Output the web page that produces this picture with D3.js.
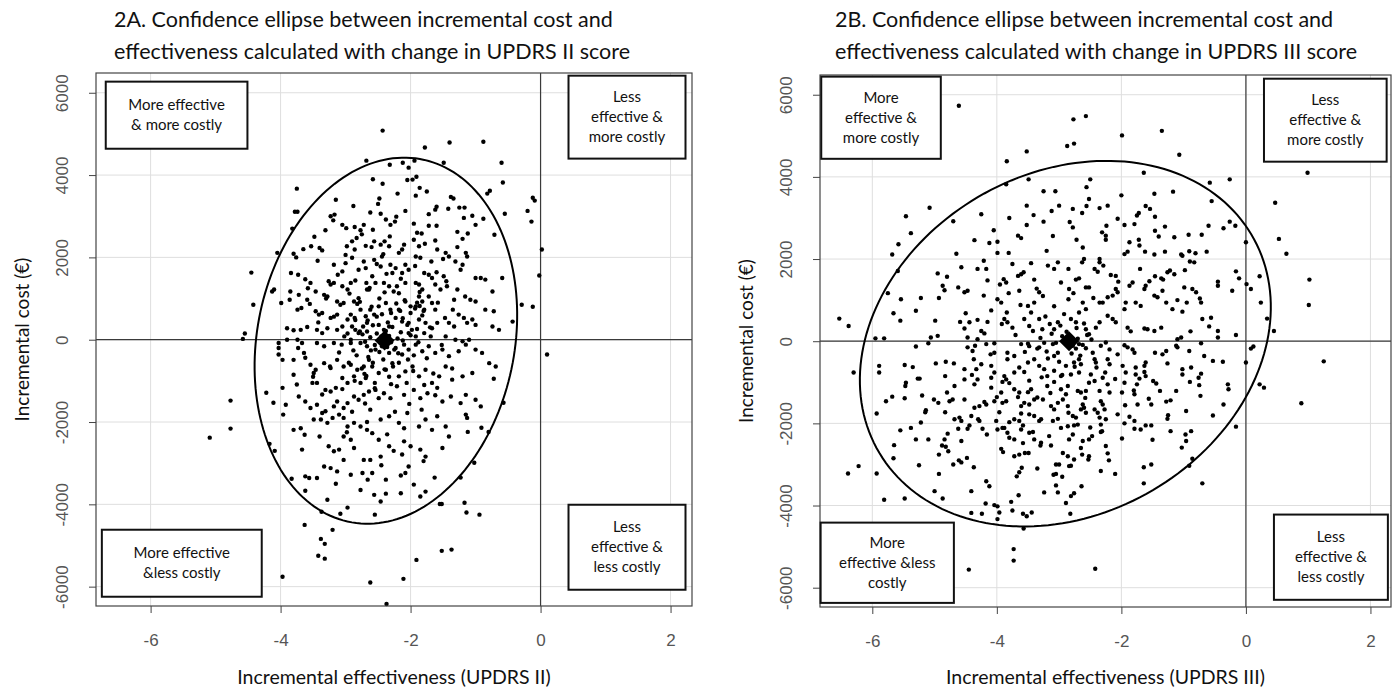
<!DOCTYPE html>
<html>
<head>
<meta charset="utf-8">
<script src="https://cdn.jsdelivr.net/npm/d3@7"></script>
<style>
  body { margin: 0; background: #fff; }
</style>
</head>
<body>
<div id="chart"></div>
<script>
// axis setup shared by both panels
const xTicks = [-6, -4, -2, 0, 2];
const yTicks = [-6000, -4000, -2000, 0, 2000, 4000, 6000];
const xDomain = [-6.84, 2.33];
const yDomain = [-6470, 6480];

// 2A: incremental effectiveness (UPDRS II) vs incremental cost
const pointsA = [
  [-3.75,3670],[-4.45,1630],[-4.42,850],[-4.55,150],[-4.58,20],[-4.05,2110],[-3.82,2700],[-3.78,3110],[-3.74,3110],[-2.68,4350],
  [-2.43,5080],[-1.78,4670],[-1.40,4790],[-0.88,4810],[-0.60,4300],[-0.58,3820],[-0.78,3620],[-0.82,3550],[-0.12,3450],[-0.09,3380],
  [-0.20,3130],[-0.14,2870],[-0.55,3060],[0.02,2190],[-0.02,1560],[-0.29,850],[-0.12,800],[-0.43,440],[0.10,-360],
  [-0.57,-1530],[-0.72,-950],[-1.17,-3960],[-1.14,-4200],[-0.94,-4250],[-1.52,-5130],[-1.37,-5100],[-1.91,-5350],[-2.11,-5810],[-2.62,-5900],
  [-2.37,-6420],[-1.63,-3350],[-1.55,-3990],[-1.52,-3990],[-1.23,-3350],[-1.02,-2990],[-0.91,-2140],[-0.80,-2240],[-1.12,-2240],
  [-4.77,-1480],[-4.77,-2160],[-5.09,-2380],[-4.22,-1290],[-4.11,-1530],[-4.17,-2530],[-4.09,-2700],[-3.83,-3380],[-3.62,-3670],[-3.63,-4500],
  [-3.38,-4840],[-3.32,-4960],[-3.42,-5250],[-3.32,-5320],[-3.20,-4620],[-3.08,-4230],[-2.97,-4080],[-3.28,-3890],[-3.37,-4180],[-3.97,-5760],
  [-2.32,4250],[-2.12,4300],[-2.03,4180],[-1.94,4350],[-1.49,4300],[-1.97,3890],[-1.91,3960],[-2.43,3790],[-1.86,3690],[-1.75,3600],
  [-2.48,3430],[-1.92,3500],[-1.38,3470],[-1.34,3430],[-1.60,3230],[-1.62,3160],[-1.42,3180],[-1.25,3210],[-1.17,3210],[-2.08,3130],
  [-2.62,3090],[-2.46,3060],[-2.22,2990],[-1.05,3010],[-1.18,2960],[-0.88,2940],[-1.00,2790],[-0.71,2550],[-1.95,2820],[-1.72,2770],
  [-1.60,2770],[-1.28,2620],[-1.12,2580],[-1.83,2580],[-1.20,2450],
  [-3.15,3400],[-3.23,3000],[-3.17,3040],[-3.19,2900],[-3.05,2790],[-2.99,2710],[-3.31,2660],[-2.86,2740],[-2.77,2660],[-2.72,2790],
  [-2.83,2470],[-2.90,2390],[-2.69,2280],[-2.98,2270],[-2.86,2190],[-2.90,1990],[-2.72,1900],[-2.69,1740],[-3.00,1860],[-3.05,1660],
  [-3.18,1820],[-3.43,1920],[-3.53,2270],[-3.65,2200],[-3.40,2230],[-3.36,2170],[-3.80,2090],[-3.76,2000],[-3.84,1620],[-3.73,1580],
  [-3.62,1470],[-3.54,1380],[-3.26,1420],[-3.23,1340],[-3.46,1170],[-3.85,1170],[-3.86,970],[-4.13,1170],[-4.10,1220],[-3.99,890],
  [-3.72,1090],[-3.59,970],[-3.55,870],[-3.33,1090],[-3.28,1050],[-3.13,930],[-3.08,850],[-3.03,890],[-2.87,930],[-2.82,870],
  [-2.80,1010],[-3.18,1380],[-3.05,1300],[-2.97,1220],[-2.92,1380],[-2.85,1440],[-2.68,1380],[-2.67,1220],[-3.74,730],[-3.68,770],
  [-3.46,690],[-3.41,610],[-3.36,650],[-3.23,530],[-3.13,610],[-2.97,490],[-2.92,610],[-2.86,530],[-2.77,730],[-2.69,570],
  [-2.67,410],[-3.90,280],[-3.80,230],[-3.69,240],[-3.59,310],[-3.44,240],[-3.36,160],[-3.28,280],[-3.13,240],[-3.05,320],
  [-2.97,150],[-2.85,240],[-2.80,160],[-2.73,320],[-2.67,200],[-4.03,-80],[-3.90,0],[-3.74,0],[-3.67,-80],[-3.44,-80],
  [-3.33,-160],[-3.18,-80],[-3.06,-120],[-2.92,-80],[-2.77,-80],[-2.67,-160],
  [-2.58,2670],[-2.38,2920],[-2.31,2790],[-2.24,2870],[-2.56,2390],[-2.46,2310],[-2.40,2390],[-2.32,2510],[-2.33,2270],[-2.10,2310],
  [-2.13,2190],[-1.95,2430],[-1.87,2270],[-1.78,2330],[-1.92,2020],[-1.85,1990],[-1.62,2410],[-1.59,2190],[-1.46,2110],[-1.41,2020],
  [-1.50,1960],[-1.28,2250],[-1.15,2110],[-1.13,2020],[-1.31,1900],[-1.20,1820],[-1.23,1700],[-2.56,1940],[-2.44,2020],[-2.46,1780],
  [-2.31,1820],[-2.23,1740],[-2.28,1620],[-2.08,1820],[-2.03,1700],[-2.13,1620],[-1.79,1620],[-1.72,1580],[-1.67,1500],[-1.60,1640],
  [-1.49,1540],[-1.92,1380],[-1.87,1340],[-1.82,1220],[-2.59,1540],[-2.54,1380],[-2.64,1220],[-2.41,1380],[-2.33,1300],[-2.26,1170],
  [-2.18,1130],[-2.08,1380],[-1.62,1340],[-1.54,1220],[-1.44,1300],[-1.28,1220],[-1.16,1050],[-1.33,970],[-1.00,1500],[-0.92,1500],
  [-0.85,1460],[-1.08,970],[-1.00,930],[-0.85,730],[-0.72,690],[-0.59,1500],[-0.74,1170],[-1.35,730],[-1.26,610],[-1.18,530],
  [-1.47,530],[-1.41,410],[-1.33,320],[-1.13,410],[-1.05,490],[-1.00,360],[-0.74,320],[-0.64,240],[-1.87,1050],[-1.82,930],
  [-1.92,810],[-1.79,730],[-1.72,1050],[-1.67,890],[-1.62,730],[-2.08,930],[-2.00,810],[-2.18,730],[-2.38,890],[-2.49,810],
  [-2.31,730],[-2.62,730],[-2.56,610],[-2.23,530],[-2.13,440],[-2.03,410],[-1.87,490],[-1.77,410],[-1.67,280],[-1.59,410],
  [-2.49,360],[-2.41,240],[-2.33,320],[-2.03,160],[-1.92,80],[-1.79,160],[-1.69,80],[-1.46,80],[-1.31,0],[-1.20,-40],[-1.10,0],
  [-4.03,-200],[-4.03,-360],[-3.97,-490],[-3.80,-490],[-3.73,-200],[-3.64,-320],[-3.62,-440],[-3.54,-610],[-3.46,-730],[-3.49,-810],
  [-3.33,-570],[-3.23,-690],[-3.13,-490],[-3.03,-650],[-2.92,-610],[-2.82,-730],[-2.72,-650],[-2.64,-490],[-3.80,-850],[-3.75,-1090],
  [-3.97,-1170],[-3.51,-1050],[-3.44,-1050],[-3.31,-1220],[-3.23,-1260],[-3.15,-1170],[-3.05,-930],[-2.97,-1050],[-2.87,-890],[-2.77,-1050],
  [-2.69,-930],[-3.72,-1380],[-3.62,-1500],[-3.54,-1660],[-3.92,-1580],[-3.96,-1820],[-3.44,-1580],[-3.36,-1780],[-3.31,-1740],[-3.18,-1620],
  [-3.13,-1500],[-3.03,-1660],[-2.97,-1540],[-2.87,-1380],[-2.80,-1460],[-2.72,-1340],[-2.64,-1260],[-3.49,-1940],[-3.38,-1940],[-3.28,-2020],
  [-3.20,-1900],[-3.10,-1820],[-3.03,-1900],[-2.97,-2110],[-2.87,-2020],[-2.77,-2110],[-2.67,-2190],[-3.80,-2190],[-3.69,-2150],[-3.63,-2310],
  [-3.67,-2670],[-3.26,-2590],[-3.18,-2710],[-3.10,-2670],[-3.03,-2350],[-2.92,-2430],[-2.87,-2630],[-3.33,-3080],[-3.23,-3120],[-3.13,-3200],
  [-3.03,-2920],[-2.92,-3280],[-2.74,-3240],[-2.72,-2920],[-3.62,-3320],[-3.56,-3360],[-3.44,-3360],[-2.77,-3650],
  [-2.54,-240],[-2.44,-160],[-2.33,-320],[-2.23,-200],[-2.13,-360],[-2.03,-240],[-1.92,-120],[-1.82,-280],[-1.72,-160],[-1.62,-320],
  [-1.51,-240],[-1.41,-400],[-1.26,-280],[-1.15,-120],[-1.00,-240],[-0.90,-320],[-0.79,-570],[-0.69,-650],
  [-2.59,-650],[-2.49,-810],[-2.38,-730],[-2.28,-570],[-2.18,-890],[-2.08,-770],[-1.97,-650],[-1.87,-890],[-1.77,-730],[-1.67,-1050],
  [-1.56,-890],[-1.46,-650],[-1.36,-970],[-1.20,-890],[-1.05,-810],
  [-2.54,-1220],[-2.41,-1300],[-2.31,-1420],[-2.21,-1130],[-2.10,-1340],[-1.95,-1220],[-1.85,-1420],[-1.74,-1300],[-1.59,-1170],[-1.51,-1500],
  [-1.38,-1380],[-1.23,-1540],[-1.15,-1340],[-1.00,-1460],[-0.92,-1620],
  [-2.62,-1700],[-2.46,-1940],[-2.33,-1860],[-2.18,-2020],[-2.05,-1780],[-1.87,-2110],[-1.77,-1940],[-1.67,-2190],[-1.59,-1860],[-1.46,-2110],
  [-1.15,-1820],[-1.13,-1900],[-2.59,-2270],[-2.49,-2430],[-2.33,-2590],[-2.10,-2470],[-2.00,-2590],[-1.85,-2670],[-1.77,-2840],[-1.51,-2630],
  [-1.41,-2350],[-2.62,-2920],[-2.46,-2840],[-2.59,-3240],[-2.38,-3400],[-2.13,-2790],[-2.03,-3080],[-2.08,-3240],[-1.95,-3520],
  [-2.56,-3770],[-2.38,-3740],[-2.46,-3930],[-2.15,-3730],[-1.85,-3810],[-1.77,-3690],[-2.55,-4250],
  [-2.45,80],[-2.30,-60],[-2.55,-130],[-2.38,210],[-2.20,30],[-2.62,60],[-2.48,-300],[-2.25,-240],[-2.70,-50],[-2.15,180],
  [-2.35,420],[-2.58,350],[-2.10,-120],[-2.42,-480],[-2.78,200],[-2.05,360],[-2.65,-420],[-2.30,650],[-2.52,560],[-2.18,-560],
  [-2.88,-260],[-2.00,110],[-2.40,-720],[-2.60,800],[-2.22,880],[-2.75,-700],[-1.95,-380],[-2.85,480],[-2.48,1000],[-2.33,-900],
  [-2.12,520],[-2.68,-880],[-2.92,0],[-1.90,260],[-2.55,-1050],
  [-2.52,150],[-2.36,-180],[-2.61,-260],[-2.28,310],[-2.47,-40],[-2.19,-330],[-2.74,130],[-2.33,90],[-2.58,-560],[-2.12,-20],
  [-2.83,-380],[-2.44,620],[-2.04,-480],[-2.66,470],[-2.27,-650],[-1.98,240],[-2.90,320],[-2.16,700],[-2.71,-830],[-2.40,1150],
  [-1.88,-60],[-2.95,-560],[-2.09,960],[-2.55,-1180],[-1.82,590],[-3.02,80],[-2.30,-1080],[-2.78,920],[-1.96,-760],[-3.10,-310],
  [-2.21,1300],[-2.63,1260],[-1.75,-450],[-2.86,-1000],[-2.06,-1050],[-3.18,560],[-1.70,300],[-2.49,-1420],[-2.94,1120],[-2.15,1480],
  [-1.86,1160],[-3.24,-650],[-2.37,1600],[-1.79,-1100],[-2.70,-1550],[-3.05,-1200],[-1.93,1790],[-2.52,1840],[-3.30,1000],[-2.24,-1750],
  [-1.65,-820],[-3.12,1580],[-2.80,1700],[-2.02,-1560],[-3.36,-1330],[-1.58,900],[-2.42,2080],[-2.18,2110],[-2.67,-2000],[-2.90,-1750],
  [-1.52,-130],[-3.42,420],[-1.68,1900],[-2.36,-2300],[-3.00,2060],[-2.10,-2150],[-1.83,-1700],[-3.50,-900],[-2.60,2250],[-1.45,1420],
  [-2.26,-2700],[-2.98,-2250],[-3.40,-2350],[-1.62,-1350],[-2.45,-3050],[-1.90,2600],[-2.75,2560],[-3.58,1250],[-1.36,-700],[-2.15,-3300],
  [-2.50,3300],[-2.88,3250],[-1.72,3050],[-3.48,2500],[-2.20,3550],[-2.66,-3400],[-1.80,-2950],[-3.15,-3500],[-2.05,3880],[-2.58,3900],
  [-1.86,820],[-1.93,760],[-1.80,700],[-2.00,650],[-1.90,900]
];

// 2B: incremental effectiveness (UPDRS III) vs incremental cost
const pointsB = [
  [-4.61,5730],[-3.52,4620],[-3.84,4380],[-2.87,4750],[-5.08,3250],[-5.46,3040],[-5.38,2630],[-5.58,2360],[-5.68,2110],[-5.59,1710],
  [-5.75,1170],[-6.53,550],[-6.38,370],[-5.95,70],[-5.81,70],[-5.54,1020],[-5.66,680],[-5.55,500],[-5.22,1050],[-5.30,740],
  [-4.99,500],[-4.70,2920],[-4.25,3090],[-4.65,2130],[-3.49,3940],[-3.85,3820],[-3.25,3650],[-3.06,3650],[-3.52,3300],[-3.12,3170],
  [-3.41,3070],[-3.52,2830],[-3.25,2910],[-4.36,2460],[-3.99,2420],[-4.12,2390],[-3.66,2570],[-3.61,2510],[-3.81,2150],[-3.99,2150],
  [-4.21,1960],[-4.57,1800],[-4.95,1650],[-4.80,1570],[-4.87,1350],[-4.84,1240],[-4.62,1310],[-4.47,1230],[-4.52,1190],[-4.93,1050],
  [-4.31,1760],[-4.17,1760],[-3.89,1510],[-3.85,1430],[-3.61,1630],[-3.66,1590],[-3.57,1680],[-3.40,1500],[-3.18,1840],[-3.08,1760],
  [-3.02,1920],[-2.97,1430],[-3.99,1020],[-3.93,940],[-3.81,1170],[-4.21,1110],[-4.09,750],[-4.31,520],[-4.44,460],[-4.59,470],
  [-4.52,310],[-4.15,470],[-4.25,250],[-3.88,540],[-3.83,460],[-3.75,330],[-3.56,540],[-3.48,370],[-3.32,540],[-3.27,290],
  [-3.08,290],[-3.02,460],[-3.40,940],[-3.50,860],[-3.32,1190],[-3.64,1230],[-4.47,90],[-4.31,50],[-5.06,90],[-4.95,130],
  [-2.77,5400],[-2.57,5480],[-1.99,5010],[-1.35,5120],[-2.76,4810],[-1.07,4540],[-1.64,4100],[-2.50,3940],[-0.58,3860],[-0.26,3940],
  [0.99,4100],[0.47,3370],[0.53,2490],[0.65,2130],[1.02,1500],[1.01,880],[0.24,940],[0.34,550],[0.45,250],[0.22,1580],
  [0.00,2410],[-0.11,1530],[0.01,1390],[0.08,1270],[-0.16,1700],[-0.22,1230],[-0.55,3410],[-1.17,3640],[-1.47,3590],[-0.60,2810],
  [-0.36,2750],[-0.26,2910],[-0.17,2810],[-0.71,2590],[-0.92,2590],[-1.15,2530],[-1.30,2790],[-1.46,3030],[-1.46,2690],[-1.61,3290],
  [-1.54,3220],[-1.72,3120],[-1.75,3060],[-1.79,2850],[-1.95,2830],[-2.06,2980],[-2.24,2810],[-2.22,3300],[-2.35,3240],[-2.56,3750],
  [-2.52,3460],[-2.56,3290],[-2.63,3120],[-2.78,3220],[-2.83,2900],[-2.78,2770],[-2.31,2650],[-2.25,2570],[-2.25,2470],[-2.72,2470],
  [-1.87,2410],[-1.72,2470],[-1.71,2330],[-1.90,2180],[-1.95,2120],[-1.62,2180],[-1.47,2110],[-1.30,2180],[-1.04,2110],[-1.02,2080],
  [-0.91,2190],[-0.81,2140],[-0.90,1940],[-0.83,1920],[-0.63,2180],[-0.98,1730],[-1.22,1720],[-1.15,1630],[-1.26,1680],[-1.46,1580],
  [-1.36,1530],[-1.33,1500],[-1.55,1460],[-1.61,1350],[-1.63,1270],[-1.82,1430],[-1.87,1350],[-2.09,1590],[-2.17,1610],[-2.09,1270],
  [-2.06,1190],[-2.35,1920],[-2.29,1840],[-2.43,1760],[-2.38,1690],[-2.60,2000],[-2.63,1920],[-2.68,1530],[-2.73,1500],[-2.85,1760],
  [-2.84,1270],[-2.77,1170],[-2.57,1310],[-2.52,1310],[-2.62,940],[-2.57,780],[-2.35,940],[-2.30,940],[-2.22,1070],[-2.14,1110],
  [-1.93,940],[-1.95,780],[-1.77,940],[-1.69,860],[-1.47,1110],[-1.42,1070],[-1.34,1230],[-1.28,940],[-1.18,780],[-0.99,1310],
  [-0.86,1270],[-0.80,1190],[-0.74,1040],[-0.72,940],[-0.95,940],[-1.02,720],[-0.70,540],[-0.56,570],[-0.45,1450],[-0.45,1350],
  [-0.59,360],[-0.89,240],[-1.10,50],[-1.04,90],[-1.47,250],[-1.36,330],[-1.63,310],[-1.58,290],[-1.90,330],[-1.85,240],
  [-2.09,460],[-2.14,540],[-2.35,460],[-2.41,330],[-2.57,290],[-2.52,170],[-2.73,460],[-2.81,540],[-0.16,150],[-0.45,250],[-0.45,90],
  [-6.30,-760],[-6.39,-3220],[-6.22,-3040],[-5.93,-3220],[-5.81,-3860],[-5.48,-3830],[-5.89,-600],[-5.89,-760],[-5.48,-580],[-5.35,-630],
  [-5.30,-130],[-5.10,-50],[-5.78,-1460],[-5.68,-1350],[-5.48,-1390],[-5.93,-1760],[-5.55,-2170],[-5.65,-2530],[-5.66,-2850],[-5.25,-3020],
  [-5.22,-1980],[-5.38,-2110],[-5.30,-2390],[-5.10,-2390],[-5.15,-1730],[-5.14,-1680],[-5.24,-910],[-5.27,-910],[-5.46,-1010],[-5.47,-1090],
  [-5.20,-1320],[-5.01,-1420],[-4.98,-540],[-4.82,-500],[-4.69,-540],[-4.83,-850],[-4.80,-1250],[-4.76,-1460],[-4.71,-1420],[-4.52,-1420],
  [-4.83,-1730],[-4.68,-1900],[-4.60,-1860],[-4.57,-1940],[-4.62,-2130],[-4.47,-2130],[-4.44,-2050],[-4.79,-2250],[-4.84,-2390],[-4.88,-2540],
  [-4.82,-2570],[-4.78,-2680],[-4.93,-2760],[-4.57,-2430],[-4.61,-2900],[-4.57,-2950],[-4.48,-2840],[-4.93,-3230],[-4.37,-3070],[-5.00,-3650],
  [-4.87,-3830],[-4.41,-3650],[-4.41,-4180],[-4.24,-4200],[-4.18,-3950],[-4.17,-3410],[-4.12,-3530],[-4.04,-3990],[-3.99,-4020],[-3.96,-4170],
  [-3.99,-4330],[-3.77,-3910],[-3.75,-4120],[-3.58,-4200],[-3.52,-4260],[-3.44,-4170],[-3.57,-4560],[-3.73,-5060],[-3.73,-5340],[-4.45,-5560],
  [-3.65,-3750],[-3.24,-3680],[-3.02,-3680],[-3.05,-3510],[-3.09,-3250],[-3.05,-3230],[-3.05,-3000],[-3.00,-3000],[-3.68,-3290],[-3.64,-3190],
  [-3.60,-3080],[-3.72,-2800],[-3.64,-2760],[-3.55,-2720],[-3.49,-2720],[-3.93,-2620],[-3.40,-2390],[-3.29,-2470],[-3.30,-2540],[-3.13,-2540],
  [-3.16,-2310],[-2.94,-2720],[-2.86,-2800],[-2.84,-3040],[-3.61,-2150],[-3.58,-2050],[-3.83,-2230],[-3.88,-2110],[-3.72,-2390],[-3.80,-2350],
  [-3.99,-2150],[-4.16,-2270],[-4.23,-2130],[-4.28,-1940],[-4.41,-1820],[-3.96,-1730],[-4.01,-1940],[-3.91,-2110],[-3.80,-1970],[-3.72,-1900],
  [-3.64,-1940],[-3.61,-1760],[-3.48,-1780],[-3.40,-1820],[-3.32,-1940],[-3.29,-1900],[-3.10,-1940],[-2.97,-2110],[-3.02,-1890],[-3.48,-2230],
  [-3.42,-2210],[-4.36,-1620],[-4.28,-1580],[-4.20,-1480],[-4.17,-1540],[-4.04,-1460],[-3.91,-1500],[-3.85,-1460],[-3.61,-1580],[-3.56,-1500],
  [-3.48,-1540],[-3.40,-1420],[-3.35,-1370],[-3.26,-1420],[-3.13,-1580],[-3.08,-1660],[-3.02,-1500],[-2.94,-1420],[-2.86,-1580],[-3.93,-1250],
  [-4.09,-1130],[-3.72,-1170],[-3.64,-1250],[-3.50,-1240],[-3.45,-1170],[-3.19,-1090],[-3.08,-990],[-2.97,-1170],[-2.89,-1290],[-3.91,-990],
  [-3.85,-930],[-3.88,-850],[-4.09,-890],[-4.04,-760],[-3.72,-760],[-3.64,-640],[-3.56,-750],[-3.50,-520],[-3.40,-440],[-3.32,-600],
  [-3.24,-680],[-3.19,-850],[-3.08,-720],[-2.97,-850],[-2.89,-600],[-3.83,-440],[-3.72,-360],[-3.83,-280],[-4.04,-280],[-4.09,-600],
  [-4.25,-560],[-4.33,-680],[-4.37,-440],[-4.47,-150],[-4.39,-240],[-4.35,-110],[-4.17,-70],[-4.04,-50],[-3.61,-70],[-3.48,-120],
  [-3.32,-150],[-3.24,-40],[-3.10,-70],[-3.08,-360],[-3.02,-280],[-4.52,-930],[-4.52,-680],[-4.36,-1050],[-4.31,-930],[-4.68,-1090],[-4.94,-1500],
  [0.89,-1510],[0.29,-1130],[0.22,-1050],[0.12,-130],[0.08,-180],[0.00,-520],[-0.16,-2080],[-0.70,-3460],[-2.42,-5540],[-1.64,-3070],
  [-1.52,-3000],[-1.64,-3460],[-2.10,-3230],[-2.33,-3160],[-2.64,-3530],[-2.81,-3770],[-2.76,-3700],[-2.82,-4200],[-2.89,-3940],
  [-0.91,-3030],[-0.86,-2860],[-1.03,-2590],[-0.96,-2430],[-0.97,-2270],[-0.88,-2190],[-1.21,-2190],[-1.26,-1890],[-0.96,-1700],[-0.53,-1810],
  [-0.36,-1540],[-0.73,-1330],[-0.75,-1070],[-0.76,-890],[-0.90,-990],[-1.02,-810],[-1.02,-680],[-0.88,-640],[-0.72,-790],[-1.12,-1210],
  [-1.21,-1440],[-1.28,-1470],[-1.38,-1210],[-1.44,-1030],[-1.49,-970],[-1.61,-850],[-1.63,-750],[-1.77,-640],[-1.77,-810],[-1.71,-910],
  [-1.75,-1050],[-1.79,-1290],[-1.74,-1540],[-1.56,-1400],[-1.52,-1540],[-1.87,-1840],[-1.79,-1940],[-1.79,-2130],[-1.69,-2150],[-1.61,-2050],
  [-1.52,-2050],[-1.99,-2370],[-2.25,-2550],[-2.22,-2730],[-2.33,-2210],[-2.06,-1780],[-1.94,-1560],[-1.99,-1250],[-1.95,-1010],[-1.93,-760],
  [-1.98,-600],[-2.06,-320],[-1.95,-100],[-1.90,-150],[-1.82,-200],[-1.79,-280],[-1.61,-520],[-1.63,-600],[-1.46,-280],[-1.34,-320],
  [-1.28,-240],[-1.26,-540],[-1.12,-110],[-1.10,-150],[-0.91,-240],[-0.72,-50],[-0.67,-360],[-0.53,-480],[-0.37,-500],[-0.29,-1050],
  [-0.28,-1170],[-2.22,-1050],[-2.30,-890],[-2.26,-760],[-2.35,-1210],[-2.19,-1250],[-2.33,-1460],[-2.30,-1540],[-2.27,-1660],[-2.25,-1900],
  [-2.33,-2030],[-2.31,-2190],[-2.47,-2310],[-2.52,-2390],[-2.62,-2430],[-2.52,-2800],[-2.53,-2880],[-2.63,-2760],[-2.81,-3030],[-2.76,-2880],
  [-2.78,-2270],[-2.84,-2390],[-2.86,-2070],[-2.76,-2050],[-2.70,-2030],[-2.73,-1860],[-2.65,-1660],[-2.60,-1620],[-2.57,-1740],[-2.62,-1540],
  [-2.43,-1660],[-2.38,-1740],[-2.35,-1860],[-2.78,-1820],[-2.85,-1740],[-2.70,-1210],[-2.65,-1250],[-2.57,-1210],[-2.49,-810],[-2.43,-970],
  [-2.52,-1010],[-2.68,-760],[-2.81,-810],[-2.86,-1090],[-2.76,-520],[-2.68,-440],[-2.65,-560],[-2.43,-440],[-2.41,-520],[-2.46,-280],
  [-2.57,-170],[-2.68,-70],[-2.73,-180],[-2.78,-110],[-2.33,-110],[-2.25,-30],[-2.19,-200],[-2.22,-440],[-2.19,-560],[1.25,-490],
  [-2.95,120],[-3.05,-40],[-2.70,60],[-2.88,230],[-3.12,180],[-2.62,-90],[-3.20,-250],[-2.98,380],[-2.80,-300],[-3.30,80],
  [-2.55,150],[-3.00,-500],[-2.92,660],[-3.15,420],[-2.68,700],[-3.35,-180],[-2.48,40],[-3.08,850],[-2.75,-620],[-3.42,250],
  [-2.85,1020],[-3.22,600],[-2.60,430],[-3.50,-60],[-2.95,-820],[-3.18,-420],[-2.72,320],[-3.26,1100],[-2.66,-350],[-3.45,700],
  [-3.70,150],[-3.55,-260],[-3.92,420],[-3.28,-880],[-3.80,-1020],[-3.62,880],[-4.10,-320],[-3.36,1280],[-2.58,-1380],[-3.95,1380],
  [-4.20,190],[-3.66,-1360],[-2.45,1050],[-3.14,-1260],[-3.84,700],[-2.40,-640],[-4.00,-1360],[-2.22,620],[-3.48,-960],[-2.10,-920],
  [-3.75,1880],[-2.05,1450],[-4.40,-820],[-3.20,2200],[-2.62,2280],[-4.15,1480],[-1.80,-1200],[-3.58,-2480],[-2.50,-2100],[-4.30,-1900],
  [-1.70,1760],[-3.90,-2700],[-2.20,-2900],[-3.10,2560],[-4.50,680],[-1.50,-2400],[-2.95,-3300],[-3.80,3000],[-1.40,2550],[-4.70,-3000],
  [-2.35,2000],[-3.45,1900],[-1.95,-2000],[-2.65,-2600],[-3.35,-3100],[-4.05,2700],[-1.25,-1800],[-2.00,3550],[-3.00,3300],[-1.10,1000]
];

// mean (large diamond) of each cloud
const meanA = [-2.40, -20];
const meanB = [-2.84, 0];

// confidence ellipse parameters: centre, half-extents, correlation
const ellipseA = { cx: -2.38, cy: -24, sx: 2.02, sy: 4447, rho: 0.14 };
const ellipseB = { cx: -2.90, cy: -60, sx: 3.30, sy: 4450, rho: 0.20 };

// quadrant captions
const quadrantA = [
  ["More effective", "& more costly"],
  ["Less", "effective &", "more costly"],
  ["More effective", "&less costly"],
  ["Less", "effective &", "less costly"]
];
const quadrantB = [
  ["More", "effective &", "more costly"],
  ["Less", "effective &", "more costly"],
  ["More", "effective &less", "costly"],
  ["Less", "effective &", "less costly"]
];

const W = 1393, H = 688;
const rFont = "'Liberation Sans', Arial, sans-serif";
const wFont = "Lato, 'Open Sans', sans-serif";

const panels = [
  {
    left: 96, right: 692, top: 73, bottom: 606, titleX: 114,
    title: ["2A. Confidence ellipse between incremental cost and",
            "effectiveness calculated with change in UPDRS II score"],
    xLabel: "Incremental effectiveness (UPDRS II)",
    points: pointsA, mean: meanA, ellipse: ellipseA, captions: quadrantA,
    // caption boxes in data units [x0, x1, yTop, yBottom]
    boxes: [[-6.69, -4.51, 6270, 4640], [0.43, 2.23, 6415, 4400],
            [-6.75, -4.29, -4617, -6245], [0.43, 2.23, -4010, -6075]]
  },
  {
    left: 820, right: 1391, top: 75, bottom: 607, titleX: 835,
    title: ["2B. Confidence ellipse between incremental cost and",
            "effectiveness calculated with change in UPDRS III score"],
    xLabel: "Incremental effectiveness (UPDRS III)",
    points: pointsB, mean: meanB, ellipse: ellipseB, captions: quadrantB,
    boxes: [[-6.82, -4.90, 6440, 4440], [0.29, 2.26, 6390, 4370],
            [-6.83, -4.69, -4416, -6370], [0.45, 2.28, -4220, -6295]]
  }
];

const svg = d3.select("#chart").append("svg")
  .attr("width", W)
  .attr("height", H)
  .style("background", "#fff");

function drawPanel(p) {
  const x = d3.scaleLinear().domain(xDomain).range([p.left, p.right]);
  const y = d3.scaleLinear().domain(yDomain).range([p.bottom, p.top]);
  const g = svg.append("g");

  // grid
  g.selectAll(".gx").data(xTicks).join("line")
    .attr("x1", d => x(d)).attr("x2", d => x(d))
    .attr("y1", p.top).attr("y2", p.bottom)
    .attr("stroke", "#dedede").attr("stroke-width", 1);
  g.selectAll(".gy").data(yTicks).join("line")
    .attr("x1", p.left).attr("x2", p.right)
    .attr("y1", d => y(d)).attr("y2", d => y(d))
    .attr("stroke", "#dedede").attr("stroke-width", 1);

  // reference lines at zero
  g.append("line")
    .attr("x1", x(0)).attr("x2", x(0)).attr("y1", p.top).attr("y2", p.bottom)
    .attr("stroke", "#3a3a3a").attr("stroke-width", 1.2);
  g.append("line")
    .attr("x1", p.left).attr("x2", p.right).attr("y1", y(0)).attr("y2", y(0))
    .attr("stroke", "#3a3a3a").attr("stroke-width", 1.2);

  // scatter
  g.selectAll(".pt").data(p.points).join("circle")
    .attr("cx", d => x(d[0]))
    .attr("cy", d => y(d[1]))
    .attr("r", 2.2)
    .attr("fill", "#000");

  // confidence ellipse
  const e = p.ellipse;
  const dAng = Math.acos(e.rho);
  const ring = d3.range(0, 361, 2).map(a => {
    const t = a * Math.PI / 180;
    return [e.cx + e.sx * Math.cos(t + dAng / 2), e.cy + e.sy * Math.cos(t - dAng / 2)];
  });
  g.append("path")
    .attr("d", d3.line().x(d => x(d[0])).y(d => y(d[1]))(ring))
    .attr("fill", "none")
    .attr("stroke", "#000")
    .attr("stroke-width", 2);

  // mean marker
  g.append("path")
    .attr("d", "M0,-10L10,0L0,10L-10,0Z")
    .attr("transform", `translate(${x(p.mean[0])},${y(p.mean[1])})`)
    .attr("fill", "#000");

  // plot frame
  g.append("rect")
    .attr("x", p.left).attr("y", p.top)
    .attr("width", p.right - p.left).attr("height", p.bottom - p.top)
    .attr("fill", "none").attr("stroke", "#444").attr("stroke-width", 1.2);

  // axes
  const ax = g.append("g")
    .attr("transform", `translate(0,${p.bottom})`)
    .call(d3.axisBottom(x).tickValues(xTicks).tickSize(7).tickPadding(21).tickFormat(d => String(d)));
  ax.select(".domain").remove();
  ax.selectAll("line").attr("stroke", "#444");
  ax.selectAll("text").attr("fill", "#555").style("font-family", rFont).style("font-size", "17px");

  const ay = g.append("g")
    .attr("transform", `translate(${p.left},0)`)
    .call(d3.axisLeft(y).tickValues(yTicks).tickSize(7).tickFormat(d => String(d)));
  ay.select(".domain").remove();
  ay.selectAll("line").attr("stroke", "#444");
  ay.selectAll("text")
    .attr("x", null).attr("dy", null)
    .attr("text-anchor", "middle")
    .attr("transform", "translate(-28,0) rotate(-90)")
    .attr("fill", "#555").style("font-family", rFont).style("font-size", "17px");

  // caption boxes
  p.boxes.forEach((b, i) => {
    const bx0 = x(b[0]), bx1 = x(b[1]), by0 = y(b[2]), by1 = y(b[3]);
    g.append("rect")
      .attr("x", bx0).attr("y", by0)
      .attr("width", bx1 - bx0).attr("height", by1 - by0)
      .attr("fill", "#fff").attr("stroke", "#111").attr("stroke-width", 2);
    const lines = p.captions[i];
    const cy = (by0 + by1) / 2;
    g.append("text")
      .attr("text-anchor", "middle")
      .style("font-family", wFont).style("font-size", "15px").attr("fill", "#111")
      .selectAll("tspan").data(lines).join("tspan")
        .attr("x", (bx0 + bx1) / 2)
        .attr("y", (d, j) => cy + (j - (lines.length - 1) / 2) * 20 + 5)
        .text(d => d);
  });

  // title
  g.append("text")
    .style("font-family", wFont).style("font-size", "21.5px").attr("fill", "#111")
    .selectAll("tspan").data(p.title).join("tspan")
      .attr("x", p.titleX)
      .attr("y", (d, j) => 27 + j * 32)
      .text(d => d);

  // axis titles
  g.append("text")
    .attr("x", (p.left + p.right) / 2).attr("y", 684)
    .attr("text-anchor", "middle")
    .style("font-family", wFont).style("font-size", "19.5px").attr("fill", "#111")
    .text(p.xLabel);
  g.append("text")
    .attr("transform", `translate(${p.left - 67},${(p.top + p.bottom) / 2}) rotate(-90)`)
    .attr("text-anchor", "middle")
    .style("font-family", wFont).style("font-size", "19px").attr("fill", "#111")
    .text("Incremental cost (€)");
}

panels.forEach(drawPanel);
</script>
</body>
</html>
